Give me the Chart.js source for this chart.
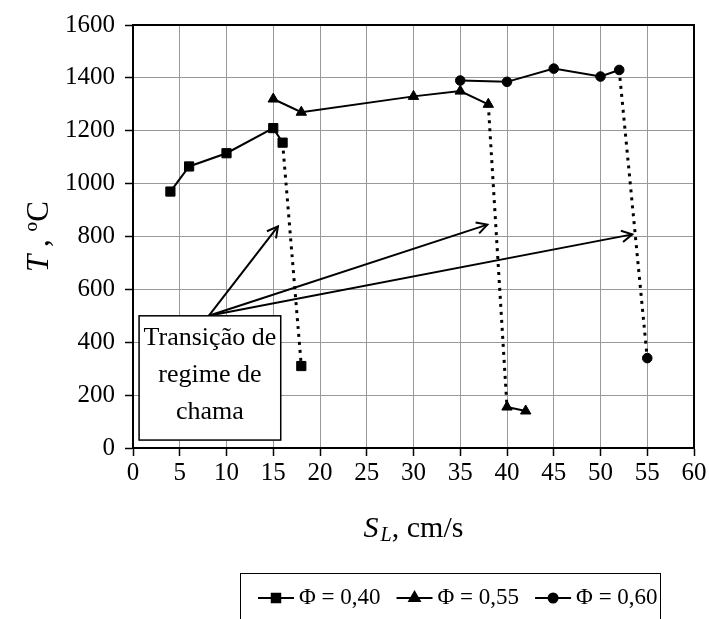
<!DOCTYPE html>
<html>
<head>
<meta charset="utf-8">
<script src="https://cdn.jsdelivr.net/npm/chart.js@4/dist/chart.umd.min.js"></script>
<style>
  html, body { margin: 0; padding: 0; background: #ffffff; }
  #wrap { width: 709px; height: 619px; }
</style>
</head>
<body>
<div id="wrap"><canvas id="c" width="709" height="619"></canvas></div>
<script>
// ---- data ----
const xTickValues = [0, 5, 10, 15, 20, 25, 30, 35, 40, 45, 50, 55, 60];
const yTickValues = [0, 200, 400, 600, 800, 1000, 1200, 1400, 1600];

const seriesNames = ['\u03A6 = 0,40', '\u03A6 = 0,55', '\u03A6 = 0,60'];

const phi040_x = [4, 6, 10, 15, 16, 18];
const phi040_y = [970, 1065, 1115, 1210, 1155, 310];

const phi055_x = [15, 18, 30, 35, 38, 40, 42];
const phi055_y = [1320, 1270, 1330, 1350, 1300, 155, 140];

const phi060_x = [35, 40, 45, 50, 52, 55];
const phi060_y = [1390, 1385, 1435, 1405, 1430, 340];

// index of the segment (start point) that is the dotted regime transition
const transitionIndex = [4, 4, 4];

// annotation (in data units)
const noteLines = ['Transi\u00E7\u00E3o de', 'regime de', 'chama'];
const noteBox = { x0: 0.65, x1: 15.8, y0: 30, y1: 500 };
const arrowFrom = { x: 8.1, y: 500 };
const arrowTo_x = [15.5, 37.9, 53.4];
const arrowTo_y = [838, 845, 808];

const SERIF = '"Liberation Serif", "Times New Roman", serif';

function pts(xs, ys) { return xs.map((x, i) => ({ x: x, y: ys[i] })); }

function makeSet(label, xs, ys, style, radius, tIdx) {
  return {
    label: label,
    data: pts(xs, ys),
    borderColor: '#000',
    backgroundColor: '#000',
    borderWidth: 2,
    pointStyle: style,
    pointRadius: radius,
    pointHoverRadius: radius,
    pointBackgroundColor: '#000',
    pointBorderColor: '#000',
    pointBorderWidth: 1,
    showLine: true,
    tension: 0,
    segment: {
      borderDash: ctx => ctx.p0DataIndex === tIdx ? [3, 5] : undefined,
      borderWidth: ctx => ctx.p0DataIndex === tIdx ? 3 : 2
    }
  };
}

const decorPlugin = {
  id: 'decor',
  afterDatasetsDraw(chart) {
    const ctx = chart.ctx;
    const xs = chart.scales.x, ys = chart.scales.y;
    const ca = chart.chartArea;
    ctx.save();
    ctx.strokeStyle = '#000';
    ctx.lineWidth = 2;
    ctx.strokeRect(ca.left, ca.top, ca.right - ca.left, ca.bottom - ca.top);

    // arrows
    const fx = xs.getPixelForValue(arrowFrom.x), fy = ys.getPixelForValue(arrowFrom.y);
    ctx.lineWidth = 2;
    for (let i = 0; i < arrowTo_x.length; i++) {
      const tx = xs.getPixelForValue(arrowTo_x[i]), ty = ys.getPixelForValue(arrowTo_y[i]);
      ctx.beginPath();
      ctx.moveTo(fx, fy);
      ctx.lineTo(tx, ty);
      ctx.stroke();
      const a = Math.atan2(ty - fy, tx - fx);
      const L = 12, w = 0.5;
      ctx.beginPath();
      ctx.moveTo(tx - L * Math.cos(a - w), ty - L * Math.sin(a - w));
      ctx.lineTo(tx, ty);
      ctx.lineTo(tx - L * Math.cos(a + w), ty - L * Math.sin(a + w));
      ctx.stroke();
    }

    // note box
    const bx0 = xs.getPixelForValue(noteBox.x0), bx1 = xs.getPixelForValue(noteBox.x1);
    const by0 = ys.getPixelForValue(noteBox.y1), by1 = ys.getPixelForValue(noteBox.y0);
    ctx.fillStyle = '#fff';
    ctx.fillRect(bx0, by0, bx1 - bx0, by1 - by0);
    ctx.lineWidth = 1.5;
    ctx.strokeRect(bx0, by0, bx1 - bx0, by1 - by0);
    ctx.fillStyle = '#000';
    ctx.font = '26px ' + SERIF;
    ctx.textAlign = 'center';
    ctx.textBaseline = 'middle';
    const cx = (bx0 + bx1) / 2;
    noteLines.forEach((t, i) => ctx.fillText(t, cx, by0 + 22 + i * 37));
    ctx.restore();
  },
  afterDraw(chart) {
    const ctx = chart.ctx;
    const ca = chart.chartArea;
    ctx.save();
    ctx.fillStyle = '#000';
    // y axis title: "T , ºC"
    ctx.translate(40, (ca.top + ca.bottom) / 2);
    ctx.rotate(-Math.PI / 2);
    ctx.textBaseline = 'middle';
    const p1 = 'T', p2 = ' , \u00BAC';
    ctx.font = 'italic 31px ' + SERIF;
    const w1 = ctx.measureText(p1).width;
    ctx.font = '31px ' + SERIF;
    const w2 = ctx.measureText(p2).width;
    let sx = -(w1 + w2) / 2;
    ctx.textAlign = 'left';
    ctx.font = 'italic 31px ' + SERIF;
    ctx.fillText(p1, sx, 0);
    ctx.font = '31px ' + SERIF;
    ctx.fillText(p2, sx + w1, 0);
    ctx.setTransform(1, 0, 0, 1, 0, 0);

    // x axis title: "S_L, cm/s"
    const xc = (ca.left + ca.right) / 2, yc = 527;
    ctx.textBaseline = 'alphabetic';
    ctx.font = 'italic 30px ' + SERIF;
    const sW = ctx.measureText('S').width;
    ctx.font = 'italic 20px ' + SERIF;
    const lW = ctx.measureText('L').width;
    ctx.font = '30px ' + SERIF;
    const rW = ctx.measureText(', cm/s').width;
    let x0 = xc - (sW + lW + rW + 2) / 2;
    const base = yc + 10;
    ctx.font = 'italic 30px ' + SERIF;
    ctx.fillText('S', x0, base);
    ctx.font = 'italic 20px ' + SERIF;
    ctx.fillText('L', x0 + sW + 2, base + 4);
    ctx.font = '30px ' + SERIF;
    ctx.fillText(', cm/s', x0 + sW + lW + 2, base);

    // legend
    ctx.strokeStyle = '#000';
    ctx.lineWidth = 1;
    ctx.strokeRect(240.5, 573.5, 420, 60);
    const ly = 598;
    const styles = ['rect', 'triangle', 'circle'];
    const radii = [6, 6, 4.5];
    ctx.font = '23px ' + SERIF;
    ctx.textBaseline = 'middle';
    ctx.textAlign = 'left';
    let ix = 258;
    for (let i = 0; i < 3; i++) {
      ctx.lineWidth = 2;
      ctx.beginPath();
      ctx.moveTo(ix, ly);
      ctx.lineTo(ix + 36, ly);
      ctx.stroke();
      ctx.fillStyle = '#000';
      Chart.helpers.drawPoint(ctx, { pointStyle: styles[i], radius: radii[i], borderWidth: 1, rotation: 0 }, ix + 18, ly);
      ctx.fillText(seriesNames[i], ix + 41, ly);
      ix += 41 + ctx.measureText(seriesNames[i]).width + 16;
    }
    ctx.restore();
  }
};

const tickFont = { family: SERIF, size: 25 };

new Chart(document.getElementById('c'), {
  type: 'scatter',
  data: {
    datasets: [
      makeSet(seriesNames[0], phi040_x, phi040_y, 'rect', 6.5, transitionIndex[0]),
      makeSet(seriesNames[1], phi055_x, phi055_y, 'triangle', 6, transitionIndex[1]),
      makeSet(seriesNames[2], phi060_x, phi060_y, 'circle', 4.8, transitionIndex[2])
    ]
  },
  options: {
    responsive: false,
    animation: false,
    devicePixelRatio: 1,
    layout: { padding: { left: 0, right: 15, top: 24, bottom: 0 } },
    plugins: { legend: { display: false }, tooltip: { enabled: false } },
    scales: {
      x: {
        type: 'linear', min: 0, max: 60,
        afterBuildTicks: s => { s.ticks = xTickValues.map(v => ({ value: v })); },
        ticks: { font: tickFont, color: '#000', padding: 2, maxRotation: 0, callback: v => String(v) },
        grid: { color: '#999', lineWidth: 1, tickLength: 8, tickColor: '#000', tickWidth: 1.5 },
        border: { color: '#000', width: 2 },
        afterFit: s => { s.height = 171; }
      },
      y: {
        type: 'linear', min: 0, max: 1600,
        afterBuildTicks: s => { s.ticks = yTickValues.map(v => ({ value: v })); },
        ticks: { font: tickFont, color: '#000', padding: 10, callback: v => String(v) },
        grid: { color: '#999', lineWidth: 1, tickLength: 8, tickColor: '#000', tickWidth: 1.5 },
        border: { color: '#000', width: 2 },
        afterFit: s => { s.width = 133; }
      }
    }
  },
  plugins: [decorPlugin]
});
</script>
</body>
</html>
